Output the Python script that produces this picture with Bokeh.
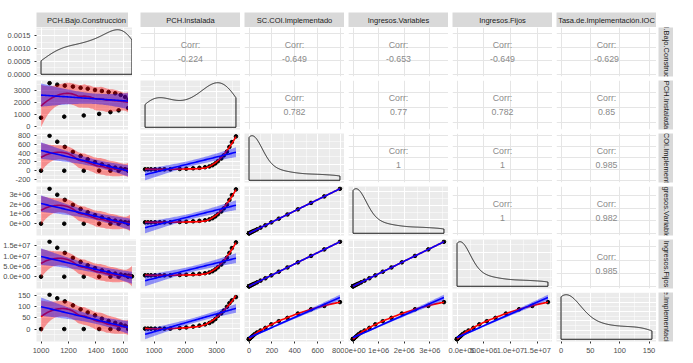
import numpy as np
from bokeh.plotting import figure
from bokeh.models import Range1d, FixedTicker, BasicTicker, GridBox, Grid, LinearAxis
from bokeh.embed import file_html
from bokeh.resources import INLINE
from bokeh.core.properties import value

# ---------------- data ----------------
var_names = ["PCH.Bajo.Construcción", "PCH.Instalada", "SC.COI.Implementado",
             "Ingresos.Variables", "Ingresos.Fijos", "Tasa.de.Implementación.IOC"]

pch_bajo = [1000, 1169, 1311, 1423, 1505, 1565, 1634, 1662, 1652, 1638, 1612,
            1580, 1540, 1492, 1443, 1393, 1340, 1288, 1232, 1173, 1118, 1062]
pch_instalada = [709, 800, 900, 1030, 1180, 1330, 1520, 1820, 2030, 2250, 2450,
                 2630, 2770, 2870, 2960, 3040, 3150, 3230, 3330, 3410, 3490, 3620]
sc_coi = [0, 0, 0, 0, 0, 0, 0, 8, 15, 25, 36,
          50, 70, 100, 143, 195, 260, 336, 427, 542, 658, 795]
ingresos_variables = [0, 0, 0, 0, 0, 0, 0, 36000, 67000, 112000, 161000,
                      223000, 313000, 447000, 638000, 871000, 1161000, 1500000,
                      1907000, 2420000, 2938000, 3550000]
ingresos_fijos = [0, 0, 0, 0, 0, 0, 0, 171000, 321000, 535000, 770000,
                  1070000, 1498000, 2140000, 3060000, 4173000, 5564000, 7190000,
                  9138000, 11599000, 14081000, 17013000]
tasa_implementacion = [0, 0, 0, 0, 0, 0, 0, 3, 6, 10, 15,
                       21, 28, 36, 47, 62, 75, 89, 107, 125, 139, 155]

tick_values = [[1000, 1200, 1400, 1600],
               [0, 1000, 2000, 3000],
               [-200, 0, 200, 400, 600, 800],
               [0, 1e6, 2e6, 3e6],
               [0, 5e6, 1e7, 1.5e7],
               [0, 50, 100, 150]]
tick_labels = [["1000", "1200", "1400", "1600"],
               ["0", "1000", "2000", "3000"],
               ["-200", "0", "200", "400", "600", "800"],
               ["0e+00", "1e+06", "2e+06", "3e+06"],
               ["0.0e+00", "5.0e+06", "1.0e+07", "1.5e+07"],
               ["0", "50", "100", "150"]]
density_tick_values = [0, 0.0005, 0.0010, 0.0015]
density_tick_labels = ["0.0000", "0.0005", "0.0010", "0.0015"]

# upper triangle, row by row
corr_values = ["-0.224", "-0.649", "-0.653", "-0.649", "-0.629",
               "0.782", "0.77", "0.782", "0.85",
               "1", "1", "0.985",
               "1", "0.982",
               "0.985"]

variables = [pch_bajo, pch_instalada, sc_coi, ingresos_variables, ingresos_fijos, tasa_implementacion]

# ---------------- style ----------------
FONT = "Liberation Sans"
PW, PH = 100, 49
HGAP = 4
HALF = 2     # half of the vertical gap, given to each neighbouring panel
LB = 28      # left border for y-axis labels
BB = 15      # bottom border for x-axis labels
TOP = 12     # space above the column strips
PANEL_BG = "#EBEBEB"
STRIP_BG = "#D9D9D9"


# ---------------- statistics (as ggplot2 does) ----------------
def qt975(df):
    z = 1.959963985
    g1 = (z**3 + z) / 4
    g2 = (5 * z**5 + 16 * z**3 + 3 * z) / 96
    g3 = (3 * z**7 + 19 * z**5 + 17 * z**3 - 15 * z) / 384
    g4 = (79 * z**9 + 776 * z**7 + 1482 * z**5 - 1920 * z**3 - 945 * z) / 92160
    return z + g1 / df + g2 / df**2 + g3 / df**3 + g4 / df**4


def expand(lo, hi, m=0.05):
    d = hi - lo
    if d == 0:
        d = abs(lo) if lo != 0 else 1.0
    return lo - m * d, hi + m * d


def lm_band(x, y, xg):
    n = len(x)
    xm, ym = x.mean(), y.mean()
    sxx = ((x - xm) ** 2).sum()
    b = ((x - xm) * (y - ym)).sum() / sxx
    a = ym - b * xm
    res = y - (a + b * x)
    s = np.sqrt((res ** 2).sum() / (n - 2))
    fit = a + b * xg
    se = s * np.sqrt(1.0 / n + (xg - xm) ** 2 / sxx)
    t = qt975(n - 2)
    return fit, fit - t * se, fit + t * se


def loess_band(x, y, xg, span=0.75):
    mu, sd = x.mean(), x.std()
    xs = (x - mu) / sd
    gs = (xg - mu) / sd
    n = len(x)
    q = int(np.floor(n * span))

    def row(x0):
        d = np.abs(xs - x0)
        h = np.sort(d)[q - 1]
        h = max(h, 1e-9)
        u = d / h
        w = np.where(u < 1, (1 - u ** 3) ** 3, 0.0)
        X = np.column_stack([np.ones(n), xs - x0, (xs - x0) ** 2])
        XtW = X.T * w
        return (np.linalg.pinv(XtW @ X) @ XtW)[0]

    L = np.array([row(v) for v in xs])
    Lg = np.array([row(v) for v in gs])
    fit = Lg @ y
    res = y - L @ y
    IL = np.eye(n) - L
    M = IL.T @ IL
    one = np.trace(M)
    two = np.trace(M @ M)
    s = np.sqrt((res ** 2).sum() / one)
    df = one ** 2 / two
    se = s * np.sqrt((Lg ** 2).sum(axis=1))
    t = qt975(df)
    return fit, fit - t * se, fit + t * se


def kde(x):
    n = len(x)
    sd = x.std(ddof=1)
    q75, q25 = np.percentile(x, [75, 25])
    lo = min(sd, (q75 - q25) / 1.34)
    if lo <= 0:
        lo = sd
    bw = 0.9 * lo * n ** -0.2
    g = np.linspace(x.min(), x.max(), 512)
    dens = np.exp(-0.5 * ((g[:, None] - x[None, :]) / bw) ** 2).sum(axis=1) / (n * bw * np.sqrt(2 * np.pi))
    return g, dens


def fixed_ticker(ticks, with_minor=True):
    t = [float(v) for v in ticks]
    minor = []
    if with_minor and len(t) > 1:
        step = t[1] - t[0]
        minor = [t[0] - step / 2] + [(a + b) / 2 for a, b in zip(t[:-1], t[1:])] + [t[-1] + step / 2]
    return FixedTicker(ticks=t, minor_ticks=minor)


def style_axis(ax, ticks, labels):
    ax.ticker = fixed_ticker(ticks)
    ax.major_label_overrides = {float(v): s for v, s in zip(ticks, labels)}
    ax.axis_line_color = None
    ax.major_tick_line_color = "#333333"
    ax.major_tick_out = 2
    ax.major_tick_in = 0
    ax.minor_tick_line_color = None
    ax.major_label_standoff = 2
    ax.major_label_text_font = FONT
    ax.major_label_text_font_size = "7.5px"
    ax.major_label_text_color = "#4D4D4D"


def vborders(r):
    top = 0 if r == 0 else HALF
    bottom = BB if r == 5 else HALF
    return top, bottom


def panel_fig(r, c, xr, yr, bg):
    top, bottom = vborders(r)
    fig = figure(title=None, frame_width=PW, frame_height=PH,
                 x_range=Range1d(*xr), y_range=Range1d(*yr),
                 x_axis_type=None, y_axis_type=None,
                 output_backend="svg", toolbar_location=None,
                 min_border_left=LB if c == 0 else HGAP, min_border_right=0,
                 min_border_top=top, min_border_bottom=bottom)
    fig.outline_line_color = None
    fig.background_fill_color = bg
    fig.border_fill_color = "white"
    return fig


def add_grid(fig, dim, ticker, upper=False):
    if upper:
        g = Grid(dimension=dim, ticker=ticker, grid_line_color="#E5E5E5", grid_line_width=1,
                 minor_grid_line_color=None)
    else:
        g = Grid(dimension=dim, ticker=ticker, grid_line_color="white", grid_line_width=1,
                 minor_grid_line_color="white", minor_grid_line_width=0.5)
    fig.add_layout(g, "center")


arrs = [np.asarray(v, dtype=float) for v in variables]
xranges = [expand(a.min(), a.max()) for a in arrs]

children = []
corr_iter = iter(corr_values)
for r in range(6):
    for c in range(6):
        x = arrs[c]
        y = arrs[r]
        if r == c:
            g, dens = kde(x)
            yr = expand(0.0, dens.max())
            fig = panel_fig(r, c, xranges[c], yr, PANEL_BG)
            add_grid(fig, 0, fixed_ticker(tick_values[c]))
            if c == 0:
                add_grid(fig, 1, fixed_ticker(density_tick_values))
            else:
                add_grid(fig, 1, BasicTicker(desired_num_ticks=4, num_minor_ticks=2))
            xs_line = np.concatenate([[g[0]], g, [g[-1], g[0]]])
            ys_line = np.concatenate([[0.0], dens, [0.0, 0.0]])
            fig.line(xs_line, ys_line, line_color="black", line_width=0.9)
            if c == 0:
                ax = LinearAxis()
                style_axis(ax, density_tick_values, density_tick_labels)
                fig.add_layout(ax, "left")
        elif r < c:
            yr = expand(y.min(), y.max())
            fig = panel_fig(r, c, xranges[c], yr, "white")
            add_grid(fig, 0, fixed_ticker(tick_values[c], False), upper=True)
            add_grid(fig, 1, fixed_ticker(tick_values[r], False), upper=True)
            cx = 0.5 * (xranges[c][0] + xranges[c][1])
            cy = 0.5 * (yr[0] + yr[1])
            val = next(corr_iter)
            fig.text(x=[cx, cx], y=[cy, cy], text=["Corr:", val], y_offset=[-7, 7],
                     text_font=value(FONT), text_font_size=value("8.8px"),
                     text_color="#8A8A8A", text_align="center", text_baseline="middle")
        else:
            xg = np.linspace(x.min(), x.max(), 80)
            lf, llo, lhi = loess_band(x, y, xg)
            mf, mlo, mhi = lm_band(x, y, xg)
            ymin = min(y.min(), llo.min(), mlo.min(), lf.min(), mf.min())
            ymax = max(y.max(), lhi.max(), mhi.max(), lf.max(), mf.max())
            yr = expand(ymin, ymax)
            fig = panel_fig(r, c, xranges[c], yr, PANEL_BG)
            add_grid(fig, 0, fixed_ticker(tick_values[c]))
            add_grid(fig, 1, fixed_ticker(tick_values[r]))
            fig.scatter(x, y, size=3.6, color="black")
            fig.varea(x=xg, y1=llo, y2=lhi, fill_color="red", fill_alpha=0.4)
            fig.line(xg, lf, line_color="red", line_width=1.6)
            fig.varea(x=xg, y1=mlo, y2=mhi, fill_color="blue", fill_alpha=0.4)
            fig.line(xg, mf, line_color="blue", line_width=1.6)
            if c == 0:
                ax = LinearAxis()
                style_axis(ax, tick_values[r], tick_labels[r])
                fig.add_layout(ax, "left")
        if r == 5:
            ax = LinearAxis()
            style_axis(ax, tick_values[c], tick_labels[c])
            fig.add_layout(ax, "below")
        children.append((fig, r + 1, c))

# top strips
for c in range(6):
    s = figure(title=None, frame_width=PW, frame_height=15,
               x_range=Range1d(0, 1), y_range=Range1d(0, 1),
               x_axis_type=None, y_axis_type=None,
               output_backend="svg", toolbar_location=None,
               min_border_left=LB if c == 0 else HGAP, min_border_right=0,
               min_border_top=TOP, min_border_bottom=0)
    s.outline_line_color = None
    s.background_fill_color = STRIP_BG
    s.border_fill_color = "white"
    s.text(x=[0.5], y=[0.5], text=[var_names[c]], text_font=value(FONT),
           text_font_size=value("7.5px"), text_color="#1A1A1A",
           text_align="center", text_baseline="middle")
    children.append((s, 0, c))

# right strips
for r in range(6):
    top, bottom = vborders(r)
    s = figure(title=None, frame_width=15, frame_height=PH,
               x_range=Range1d(0, 1), y_range=Range1d(0, 1),
               x_axis_type=None, y_axis_type=None,
               output_backend="svg", toolbar_location=None,
               min_border_left=2, min_border_right=0,
               min_border_top=top, min_border_bottom=bottom)
    s.outline_line_color = None
    s.background_fill_color = STRIP_BG
    s.border_fill_color = "white"
    s.text(x=[0.5], y=[0.5], text=[var_names[r]], text_font=value(FONT),
           text_font_size=value("7.5px"), text_color="#1A1A1A", angle=-np.pi / 2,
           text_align="center", text_baseline="middle")
    children.append((s, r + 1, 6))

layout = GridBox(children=children, spacing=0)

open("out.html", "w").write(file_html(layout, INLINE))
